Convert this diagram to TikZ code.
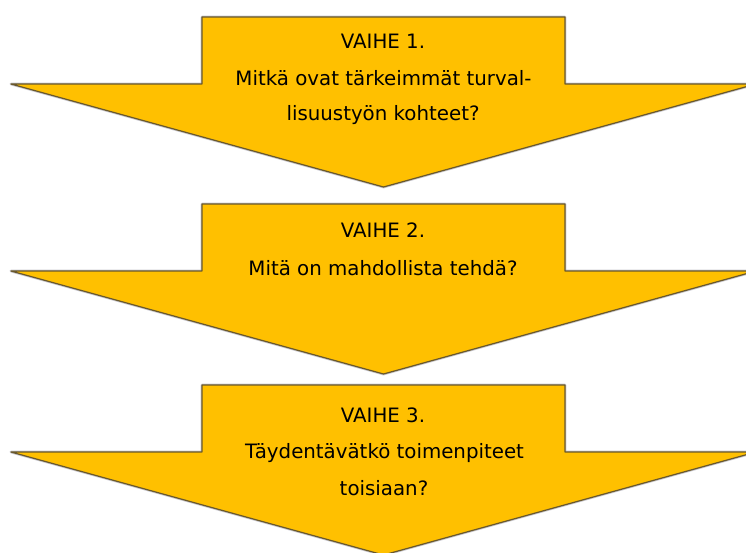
\documentclass[tikz,border=0pt]{standalone}
\usepackage{fontspec}
\setmainfont{DejaVu Sans}
\definecolor{arrowfill}{RGB}{255,192,0}
\definecolor{arrowline}{RGB}{105,88,45}
\definecolor{halo}{RGB}{200,200,208}
\tikzset{
  arrowshape/.style={fill=arrowfill, draw=arrowline, line width=1.2pt, line join=round},
  arrowhalo/.style={draw=halo, line width=2.8pt, line join=round},
  steptext/.style={anchor=base, inner sep=0pt, font=\fontsize{19.8}{24}\selectfont, text=black}
}
\begin{document}
\begin{tikzpicture}[x=1pt,y=-1pt]
\useasboundingbox (0,0) rectangle (746,552);
\foreach \t in {17,204,385}{
  \draw[arrowhalo] (202,\t) -- (565,\t) -- (565,\t+67) -- (756,\t+67) -- (383.5,\t+170) -- (11,\t+67) -- (202,\t+67) -- cycle;
  \draw[arrowshape] (202,\t) -- (565,\t) -- (565,\t+67) -- (756,\t+67) -- (383.5,\t+170) -- (11,\t+67) -- (202,\t+67) -- cycle;
}
% Vaihe 1
\node[steptext] (v1a) at (383,48) {VAIHE 1.};
\node[steptext] (v1b) at (383.5,85) {Mitkä ovat tärkeimmät turval-};
\node[steptext] (v1c) at (383,120) {lisuustyön kohteet?};
% Vaihe 2
\node[steptext] (v2a) at (383,237) {VAIHE 2.};
\node[steptext] (v2b) at (383,275) {Mitä on mahdollista tehdä?};
% Vaihe 3
\node[steptext] (v3a) at (383,422) {VAIHE 3.};
\node[steptext] (v3b) at (384.5,458) {Täydentävätkö toimenpiteet};
\node[steptext] (v3c) at (384,495) {toisiaan?};
\end{tikzpicture}
\end{document}
